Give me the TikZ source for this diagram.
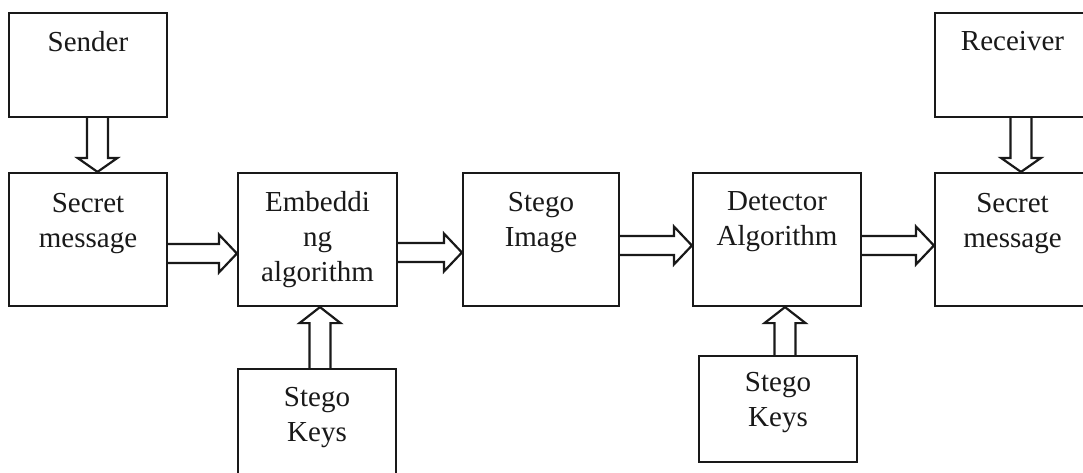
\documentclass[tikz,border=0pt]{standalone}
\usepackage{fontspec}
\setmainfont{Liberation Serif}
\usetikzlibrary{calc}

\tikzset{
  blk/.style={draw=black!90, line width=2.2pt, rectangle, inner sep=0pt},
  lbl/.style={anchor=north, inner sep=0pt, align=center,
    font=\fontsize{29}{35}\selectfont, text=black!90},
  hollow/.style={draw=black!90, line width=2.2pt, fill=white, line join=miter},
}

% hollow block arrow pointing down: source, target, x offset of its axis
\newcommand\arrdown[3]{%
  \draw[hollow] let \p1=(#1.south), \p2=(#2.north) in
    (\x2+#3-10.5pt,\y1) -- (\x2+#3-10.5pt,\y2+14pt) -- (\x2+#3-20pt,\y2+14pt)
    -- (\x2+#3,\y2) -- (\x2+#3+20pt,\y2+14pt) -- (\x2+#3+10.5pt,\y2+14pt)
    -- (\x2+#3+10.5pt,\y1);}
% hollow block arrow pointing up
\newcommand\arrup[3]{%
  \draw[hollow] let \p1=(#1.north), \p2=(#2.south) in
    (\x2+#3-10.5pt,\y1) -- (\x2+#3-10.5pt,\y2-16pt) -- (\x2+#3-20.5pt,\y2-16pt)
    -- (\x2+#3,\y2) -- (\x2+#3+20.5pt,\y2-16pt) -- (\x2+#3+10.5pt,\y2-16pt)
    -- (\x2+#3+10.5pt,\y1);}
% hollow block arrow pointing right: source, target, y offset of its axis
\newcommand\arrright[3]{%
  \draw[hollow] let \p1=(#1.east), \p2=(#2.west) in
    (\x1,\y2+#3+9.5pt) -- (\x2-18pt,\y2+#3+9.5pt) -- (\x2-18pt,\y2+#3+19pt)
    -- (\x2,\y2+#3) -- (\x2-18pt,\y2+#3-19pt) -- (\x2-18pt,\y2+#3-9.5pt)
    -- (\x1,\y2+#3-9.5pt);}

\begin{document}
\begin{tikzpicture}[x=1pt, y=-1pt]
  \useasboundingbox (0,0) rectangle (1083,472);
  \clip (0,0) rectangle (1083,472);
  \fill[white] (0,0) rectangle (1083,472);

  % boxes
  \node[blk, minimum width=158pt, minimum height=104pt] (sender)   at (88,65)    {};
  \node[blk, minimum width=158pt, minimum height=133pt] (secL)     at (88,239.5) {};
  \node[blk, minimum width=159pt, minimum height=133pt] (embed)    at (317.5,239.5) {};
  \node[blk, minimum width=156pt, minimum height=133pt] (stegoimg) at (541,239.5) {};
  \node[blk, minimum width=168pt, minimum height=133pt] (detect)   at (777,239.5) {};
  \node[blk, minimum width=155pt, minimum height=133pt] (secR)     at (1012.5,239.5) {};
  \node[blk, minimum width=155pt, minimum height=104pt] (receiver) at (1012.5,65) {};
  \node[blk, minimum width=158pt, minimum height=112pt] (keysL)    at (317,425)  {};
  \node[blk, minimum width=158pt, minimum height=106pt] (keysR)    at (778,409)  {};

  % box texts
  \node[lbl] (sender-t)   at ($(sender.north)+(0,19)$)   {Sender};
  \node[lbl] (secL-t)     at ($(secL.north)+(0,21)$)     {Secret\\message};
  \node[lbl] (embed-t)    at ($(embed.north)+(0,19)$)    {Embeddi\\ng\\algorithm};
  \node[lbl] (stegoimg-t) at ($(stegoimg.north)+(0,20)$) {Stego\\Image};
  \node[lbl] (detect-t)   at ($(detect.north)+(0,19)$)   {Detector\\Algorithm};
  \node[lbl] (secR-t)     at ($(secR.north)+(0,21)$)     {Secret\\message};
  \node[lbl] (receiver-t) at ($(receiver.north)+(0,19)$) {Receiver};
  \node[lbl] (keysL-t)    at ($(keysL.north)+(0,19)$)    {Stego\\Keys};
  \node[lbl] (keysR-t)    at ($(keysR.north)+(0,17)$)    {Stego\\Keys};

  % connectors
  \arrdown{sender}{secL}{9.5pt}
  \arrdown{receiver}{secR}{8.5pt}
  \arrright{secL}{embed}{-14pt}
  \arrright{embed}{stegoimg}{-13pt}
  \arrright{stegoimg}{detect}{-6pt}
  \arrright{detect}{secR}{-6pt}
  \arrup{keysL}{embed}{2.5pt}
  \arrup{keysR}{detect}{8pt}
\end{tikzpicture}
\end{document}
